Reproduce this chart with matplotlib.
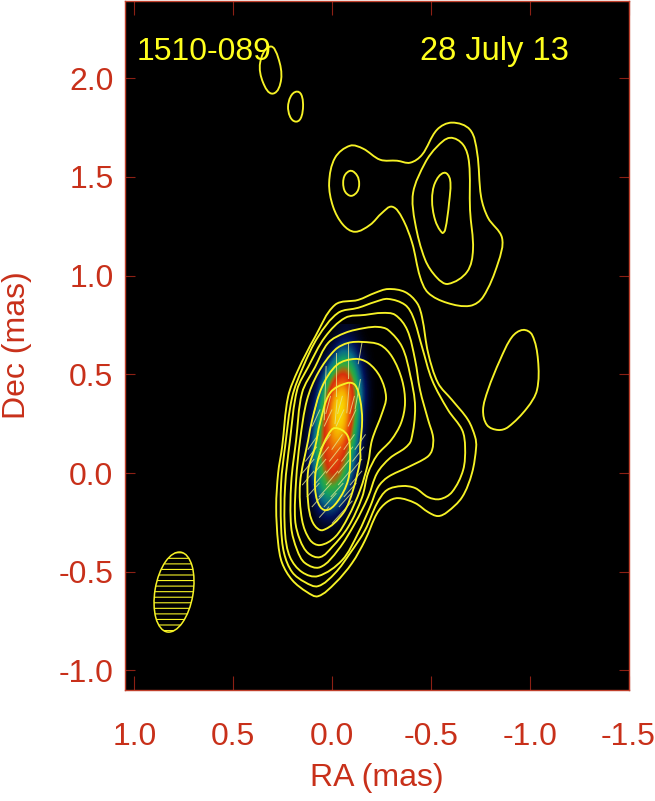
# -*- coding: utf-8 -*-
import numpy as np
import matplotlib
matplotlib.use('Agg')
import matplotlib.pyplot as plt
from matplotlib.colors import LinearSegmentedColormap
from matplotlib.patches import Ellipse, PathPatch
from matplotlib.path import Path

plt.rcParams['font.family'] = ['Liberation Sans', 'DejaVu Sans']
plt.rcParams['hatch.linewidth'] = 0.8

# contour outlines, (RA, Dec) in mas
c1_ra = [-0.283, -0.369, -0.430, -0.455, -0.486, -0.536, -0.607, -0.688, -0.724, -0.729, -0.708, -0.658, -0.582, -0.536, -0.486, -0.420, -0.334, -0.278, -0.228, -0.167, -0.101, -0.015, 0.071, 0.127, 0.202, 0.253, 0.273, 0.283, 0.273, 0.253, 0.223, 0.172, 0.086, -0.015, -0.132, -0.218]
c1_dec = [0.932, 0.917, 0.861, 0.790, 0.608, 0.456, 0.370, 0.269, 0.182, 0.132, 0.000, -0.122, -0.198, -0.218, -0.198, -0.152, -0.127, -0.147, -0.203, -0.340, -0.456, -0.558, -0.624, -0.603, -0.542, -0.456, -0.355, -0.172, 0.000, 0.132, 0.385, 0.522, 0.690, 0.852, 0.877, 0.913]

c2_ra = [-0.283, -0.369, -0.410, -0.455, -0.506, -0.587, -0.658, -0.673, -0.663, -0.607, -0.546, -0.486, -0.420, -0.354, -0.278, -0.228, -0.167, -0.091, -0.015, 0.071, 0.137, 0.202, 0.243, 0.258, 0.258, 0.238, 0.202, 0.147, 0.071, -0.030, -0.132, -0.218]
c2_dec = [0.882, 0.852, 0.790, 0.639, 0.471, 0.319, 0.218, 0.132, 0.015, -0.096, -0.132, -0.122, -0.076, -0.066, -0.086, -0.152, -0.289, -0.406, -0.507, -0.573, -0.553, -0.502, -0.406, -0.274, -0.051, 0.132, 0.385, 0.537, 0.690, 0.811, 0.837, 0.867]

c3_ra = [-0.253, -0.319, -0.380, -0.420, -0.445, -0.486, -0.511, -0.506, -0.481, -0.385, -0.283, -0.233, -0.192, -0.132, -0.051, 0.071, 0.152, 0.213, 0.238, 0.238, 0.213, 0.177, 0.121, 0.035, -0.066, -0.167]
c3_dec = [0.811, 0.801, 0.725, 0.573, 0.421, 0.269, 0.182, 0.117, 0.081, 0.030, -0.020, -0.071, -0.172, -0.304, -0.441, -0.522, -0.502, -0.426, -0.304, -0.071, 0.167, 0.421, 0.537, 0.690, 0.786, 0.801]

c4_ra = [-0.233, -0.283, -0.354, -0.395, -0.420, -0.400, -0.369, -0.293, -0.228, -0.182, -0.116, -0.030, 0.061, 0.137, 0.177, 0.207, 0.207, 0.182, 0.152, 0.086, 0.020, -0.066, -0.167]
c4_dec = [0.740, 0.725, 0.639, 0.497, 0.335, 0.167, 0.127, 0.076, 0.000, -0.122, -0.254, -0.390, -0.477, -0.456, -0.390, -0.274, -0.051, 0.167, 0.406, 0.537, 0.659, 0.710, 0.735]

c5_ra = [-0.152, -0.243, -0.304, -0.354, -0.369, -0.349, -0.299, -0.228, -0.182, -0.152, -0.081, 0.000, 0.061, 0.121, 0.162, 0.187, 0.182, 0.162, 0.127, 0.071, -0.015, -0.081]
c5_dec = [0.664, 0.649, 0.588, 0.471, 0.355, 0.254, 0.167, 0.091, 0.000, -0.122, -0.274, -0.375, -0.426, -0.406, -0.340, -0.238, -0.035, 0.167, 0.370, 0.507, 0.624, 0.659]

c6_ra = [-0.116, -0.182, -0.243, -0.273, -0.253, -0.202, -0.182, -0.142, -0.081, -0.015, 0.061, 0.111, 0.152, 0.162, 0.121, 0.101, 0.051, -0.025]
c6_dec = [0.578, 0.558, 0.487, 0.385, 0.304, 0.167, 0.051, -0.086, -0.223, -0.324, -0.365, -0.340, -0.238, -0.051, 0.167, 0.269, 0.436, 0.548]

c7_ra = [-0.076, -0.116, -0.142, -0.152, -0.142, -0.142, -0.106, -0.056, 0.046, 0.096, 0.121, 0.121, 0.086, 0.061, 0.010]
c7_dec = [0.456, 0.446, 0.370, 0.269, 0.132, 0.066, -0.086, -0.203, -0.289, -0.254, -0.152, 0.015, 0.132, 0.254, 0.406]

c8_ra = [-0.015, -0.076, -0.091, -0.081, -0.025, 0.035, 0.076, 0.086, 0.061, 0.020]
c8_dec = [0.228, 0.193, 0.101, -0.035, -0.147, -0.188, -0.137, -0.020, 0.101, 0.193]

blob_a_ra = [-0.607, -0.698, -0.734, -0.754, -0.789, -0.860, -0.840, -0.764, -0.698, -0.582, -0.486, -0.445, -0.405, -0.354, -0.304, -0.253, -0.192, -0.116, -0.056, -0.005, 0.015, -0.015, -0.091, -0.157, -0.243, -0.329, -0.395, -0.455, -0.531]
blob_a_dec = [1.775, 1.739, 1.622, 1.399, 1.293, 1.191, 1.065, 0.892, 0.847, 0.862, 0.913, 0.994, 1.166, 1.293, 1.349, 1.318, 1.257, 1.222, 1.257, 1.349, 1.470, 1.597, 1.658, 1.643, 1.587, 1.582, 1.572, 1.612, 1.739]

blob_b_ra = [-0.597, -0.663, -0.693, -0.698, -0.713, -0.683, -0.587, -0.531, -0.471, -0.420, -0.410, -0.471, -0.531]
blob_b_dec = [1.698, 1.663, 1.572, 1.333, 1.131, 1.019, 0.958, 0.989, 1.080, 1.268, 1.420, 1.572, 1.653]

blob_c_ra = [-0.567, -0.597, -0.592, -0.572, -0.557, -0.521, -0.506, -0.521]
blob_c_dec = [1.521, 1.486, 1.369, 1.232, 1.217, 1.283, 1.384, 1.470]

blob_d_ra = [-0.096, -0.127, -0.137, -0.127, -0.096, -0.066, -0.056, -0.066]
blob_d_dec = [1.531, 1.506, 1.465, 1.425, 1.404, 1.425, 1.470, 1.511]

blob_e_ra = [0.314, 0.273, 0.258, 0.299, 0.349, 0.364]
blob_e_dec = [2.160, 2.104, 1.993, 1.922, 1.977, 2.079]

blob_f_ra = [0.177, 0.147, 0.182, 0.223]
blob_f_dec = [1.932, 1.856, 1.780, 1.856]

blob_g_ra = [-0.966, -1.012, -1.042, -1.037, -0.987, -0.891, -0.840, -0.784, -0.764, -0.789, -0.850, -0.911]
blob_g_dec = [0.725, 0.700, 0.573, 0.421, 0.330, 0.233, 0.218, 0.243, 0.319, 0.421, 0.573, 0.690]

contours = [(c1_ra, c1_dec), (c2_ra, c2_dec), (c3_ra, c3_dec), (c4_ra, c4_dec),
            (c5_ra, c5_dec), (c6_ra, c6_dec), (c7_ra, c7_dec), (c8_ra, c8_dec),
            (blob_a_ra, blob_a_dec), (blob_b_ra, blob_b_dec), (blob_c_ra, blob_c_dec),
            (blob_d_ra, blob_d_dec), (blob_e_ra, blob_e_dec), (blob_f_ra, blob_f_dec),
            (blob_g_ra, blob_g_dec)]

# polarised intensity, coarse read of the colour map
pol_ra = [0.2, 0.15, 0.1, 0.05, 0.0, -0.05, -0.1, -0.15, -0.2]
pol_dec = [0.7, 0.6, 0.5, 0.4, 0.3, 0.2, 0.1, 0.0, -0.1, -0.2, -0.3]
pol_map = [
    [0, 0, 0, 0, 0.00, 0.04, 0.04, 0.00, 0],
    [0, 0, 0, 0, 0.08, 0.28, 0.20, 0.04, 0],
    [0, 0, 0, 0.10, 0.38, 0.62, 0.46, 0.10, 0],
    [0, 0, 0.03, 0.26, 0.78, 1.00, 0.66, 0.16, 0],
    [0, 0, 0.07, 0.42, 0.88, 1.00, 0.60, 0.10, 0],
    [0, 0, 0.12, 0.52, 0.84, 0.92, 0.48, 0.06, 0],
    [0, 0, 0.18, 0.56, 0.72, 0.64, 0.30, 0.03, 0],
    [0, 0, 0.15, 0.44, 0.66, 0.48, 0.16, 0.00, 0],
    [0, 0, 0.08, 0.32, 0.38, 0.24, 0.05, 0.00, 0],
    [0, 0, 0.01, 0.12, 0.14, 0.05, 0.00, 0.00, 0],
    [0, 0, 0, 0, 0, 0, 0, 0, 0],
]

# EVPA sticks: centre, length (mas), angle from +x on the page (deg)
stick_ra = [0.035, -0.020, -0.081, -0.142, -0.020, -0.081, -0.130,
            0.081, 0.020, -0.040, -0.101,
            0.081, 0.020, -0.040, -0.101,
            0.096, 0.035, -0.025, -0.086, -0.142,
            0.106, 0.046, -0.015, -0.076, -0.132,
            0.121, 0.061, 0.000, -0.061, -0.121,
            0.121, 0.061, 0.000, -0.061, -0.121,
            0.096, 0.035, -0.025, -0.091,
            0.071, 0.010, -0.066,
            0.040, -0.051]
stick_dec = [0.405, 0.500, 0.573, 0.608, 0.310, 0.380, 0.400,
             0.345, 0.345, 0.345, 0.345,
             0.279, 0.279, 0.279, 0.279,
             0.157, 0.157, 0.157, 0.157, 0.157,
             0.096, 0.096, 0.096, 0.096, 0.096,
             0.035, 0.035, 0.035, 0.035, 0.035,
             -0.025, -0.025, -0.025, -0.025, -0.025,
             -0.086, -0.086, -0.086, -0.086,
             -0.137, -0.137, -0.137,
             -0.198, -0.198]
stick_len = [0.27, 0.22, 0.18, 0.11, 0.12, 0.15, 0.15,
             0.09, 0.09, 0.09, 0.09,
             0.09, 0.09, 0.09, 0.09,
             0.09, 0.09, 0.09, 0.09, 0.09,
             0.09, 0.09, 0.09, 0.09, 0.09,
             0.09, 0.09, 0.09, 0.09, 0.09,
             0.09, 0.09, 0.09, 0.09, 0.09,
             0.09, 0.09, 0.09, 0.09,
             0.09, 0.09, 0.09,
             0.07, 0.15]
stick_ang = [88, 90, 90, 80, 85, 85, 80,
             75, 75, 75, 75,
             65, 65, 65, 65,
             55, 55, 55, 55, 55,
             52, 52, 52, 52, 52,
             50, 50, 50, 50, 50,
             50, 50, 50, 50, 50,
             48, 48, 48, 48,
             48, 48, 48,
             48, 48]

x_ticks = [1.0, 0.5, 0.0, -0.5, -1.0, -1.5]
x_labels = ['1.0', '0.5', '0.0', '-0.5', '-1.0', '-1.5']
y_ticks = [2.0, 1.5, 1.0, 0.5, 0.0, -0.5, -1.0]
y_labels = ['2.0', '1.5', '1.0', '0.5', '0.0', '-0.5', '-1.0']

RED = '#c8301a'
TICK = '#8c2014'
YELLOW = '#f6f226'


def smooth_closed(ra, dec):
    # closed spline through the read points, handles scaled by chord length
    p = np.column_stack([ra, dec])
    n = len(p)
    verts = [p[0]]
    codes = [Path.MOVETO]
    for i in range(n):
        p0, p1, p2, p3 = p[i - 1], p[i], p[(i + 1) % n], p[(i + 2) % n]
        chord = np.linalg.norm(p2 - p1)
        t1 = (p2 - p0) / np.linalg.norm(p2 - p0)
        t2 = (p3 - p1) / np.linalg.norm(p3 - p1)
        verts += [p1 + t1 * chord / 3, p2 - t2 * chord / 3, p2]
        codes += [Path.CURVE4] * 3
    return Path(verts, codes)


fig = plt.figure(figsize=(6.55, 8.01), dpi=100)
ax = fig.add_axes([124.5 / 655, 111 / 801, 504.2 / 655, 689 / 801])
ax.set_facecolor('black')

cmap = LinearSegmentedColormap.from_list('core', [
    (0.00, '#000000'), (0.10, '#001058'), (0.22, '#0a6a88'), (0.33, '#14a060'),
    (0.42, '#3aa838'), (0.50, '#a86a10'), (0.57, '#d8300a'), (0.68, '#e8500a'),
    (0.82, '#f4a800'), (1.00, '#ffff00')])
ax.imshow(pol_map, cmap=cmap, vmin=0, vmax=1, interpolation='bicubic', aspect='auto',
          extent=(0.225, -0.225, -0.35, 0.75), zorder=1)

for s_ra, s_dec, s_len, s_ang in zip(stick_ra, stick_dec, stick_len, stick_ang):
    dx = 0.5 * s_len * np.cos(np.radians(s_ang))
    dy = 0.5 * s_len * np.sin(np.radians(s_ang))
    # RA runs right to left so the sign of dx flips
    ax.plot([s_ra + dx, s_ra - dx], [s_dec - dy, s_dec + dy], color='#e6e68c', lw=0.7,
            alpha=0.8, zorder=2)

for ra, dec in contours:
    ax.add_patch(PathPatch(smooth_closed(ra, dec), fill=False, edgecolor=YELLOW, lw=1.35, zorder=3))

ax.add_patch(Ellipse((0.80, -0.603), 0.193, 0.41, angle=9.7, facecolor='none',
                     edgecolor=YELLOW, hatch='---', lw=1.1, zorder=3))

ax.set_xlim(1.0506, -1.501)
ax.set_ylim(-1.099, 2.391)
ax.set_xticks(x_ticks)
ax.set_xticklabels(x_labels)
ax.set_yticks(y_ticks)
ax.set_yticklabels(y_labels)
ax.tick_params(axis='x', direction='in', top=True, length=10, width=0.8, color=TICK,
               labelcolor=RED, labelsize=23, pad=23)
ax.tick_params(axis='y', direction='in', right=True, length=7.2, width=0.8, color=TICK,
               labelcolor=RED, labelsize=23, pad=8)
for s in ax.spines.values():
    s.set_color('#c0402c')
    s.set_linewidth(1.0)

ax.text(0.987, 2.094, '1510-089', color='#ffff1e', fontsize=23, ha='left', va='baseline', zorder=4)
ax.text(-0.445, 2.094, '28 July 13', color='#ffff1e', fontsize=23.5, ha='left', va='baseline', zorder=4)

fig.text(377 / 655, 1 - 786 / 801, 'RA (mas)', color=RED, fontsize=23, ha='center', va='baseline')
fig.text(17 / 655, 1 - 345 / 801, 'Dec (mas)', color=RED, fontsize=23, rotation=90, ha='center', va='center')

fig.savefig('out.png', dpi=100)
